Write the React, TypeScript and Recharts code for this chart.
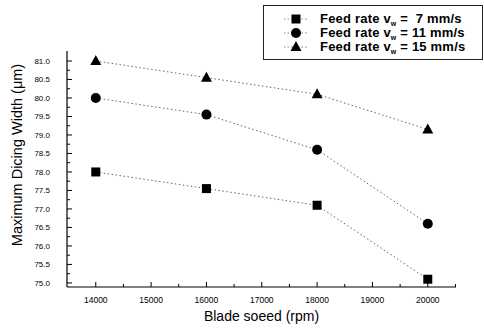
import { Legend, Line, LineChart, XAxis, YAxis } from "recharts";

const speeds = [14000, 16000, 18000, 20000];
const width7 = [78.0, 77.55, 77.1, 75.1];
const width11 = [80.0, 79.55, 78.6, 76.6];
const width15 = [81.0, 80.55, 80.1, 79.15];

const xTicks = [14000, 14500, 15000, 15500, 16000, 16500, 17000, 17500, 18000, 18500, 19000, 19500, 20000, 20500];
const yTicks = [
  75, 75.25, 75.5, 75.75, 76, 76.25, 76.5, 76.75, 77, 77.25, 77.5, 77.75, 78, 78.25, 78.5, 78.75, 79, 79.25,
  79.5, 79.75, 80, 80.25, 80.5, 80.75, 81,
];

const FONT = "'Liberation Sans', Arial, sans-serif";
const INK = "#000";

const data = speeds.map((s, i) => ({ speed: s, f7: width7[i], f11: width11[i], f15: width15[i] }));

type Shape = "square" | "circle" | "triangle";
const series: { key: string; rate: string; shape: Shape }[] = [
  { key: "f7", rate: "\u00a07", shape: "square" },
  { key: "f11", rate: "11", shape: "circle" },
  { key: "f15", rate: "15", shape: "triangle" },
];

function Marker({ cx, cy, shape }: { cx: number; cy: number; shape: Shape }) {
  if (cx == null || cy == null) return null;
  if (shape === "square") return <rect x={cx - 4.5} y={cy - 4.5} width={9} height={9} fill="#000" />;
  if (shape === "circle") return <circle cx={cx} cy={cy} r={5} fill="#000" />;
  return <polygon points={`${cx},${cy - 6} ${cx + 5.5},${cy + 4} ${cx - 5.5},${cy + 4}`} fill="#000" />;
}

function XTick({ x, y, payload }: any) {
  const major = payload.value % 1000 === 0;
  return (
    <g>
      <line x1={x} x2={x} y1={y} y2={y - (major ? 5 : 3)} stroke={INK} strokeWidth={1} />
      {major && (
        <text x={x} y={y + 16} textAnchor="middle" fontSize={8.5} fontFamily={FONT} fill={INK}>
          {payload.value}
        </text>
      )}
    </g>
  );
}

function YTick({ x, y, payload }: any) {
  const v = payload.value as number;
  const major = Math.abs(v * 2 - Math.round(v * 2)) < 1e-6;
  return (
    <g>
      <line x1={x} x2={x + (major ? 5 : 3)} y1={y} y2={y} stroke={INK} strokeWidth={1} />
      {major && (
        <text x={x - 17} y={y + 3} textAnchor="end" fontSize={8} fontFamily={FONT} fill={INK}>
          {v.toFixed(1)}
        </text>
      )}
    </g>
  );
}

function FeedLegend() {
  return (
    <div
      style={{
        width: 220,
        height: 55,
        border: "1px solid #222",
        boxSizing: "border-box",
        background: "#fff",
        position: "relative",
        fontFamily: FONT,
        fontSize: 13,
        fontWeight: "bold",
        color: INK,
      }}
    >
      {series.map((s, i) => (
        <div
          key={s.key}
          style={{ position: "absolute", left: 0, top: 6 + i * 14, height: 14, display: "flex", alignItems: "center" }}
        >
          <svg width={35} height={14} style={{ marginLeft: 18 }}>
            <line x1={2} x2={26} y1={7} y2={7} stroke="#666" strokeWidth={0.8} strokeDasharray="1.5 2" />
            <Marker cx={14} cy={7} shape={s.shape} />
          </svg>
          <span style={{ whiteSpace: "pre", letterSpacing: 0.2, marginLeft: 3 }}>
            Feed rate v<sub style={{ fontSize: 7, verticalAlign: -3 }}>w</sub> = {s.rate} mm/s
          </span>
        </div>
      ))}
    </div>
  );
}

export default function App() {
  return (
    <div style={{ position: "absolute", left: 0, top: 0, width: 484, height: 332, background: "#fff" }}>
      <LineChart width={484} height={332} data={data} margin={{ top: 51, right: 28, bottom: 0, left: 0 }}>
        <XAxis
          dataKey="speed"
          type="number"
          domain={[13480, 20510]}
          ticks={xTicks}
          interval={0}
          height={45}
          tickSize={0}
          tickMargin={0}
          tickLine={false}
          tick={<XTick />}
          axisLine={{ stroke: INK, strokeWidth: 1.2 }}
          label={{
            content: ({ viewBox }: any) => (
              <text
                x={viewBox.x + viewBox.width / 2}
                y={viewBox.y + 34}
                textAnchor="middle"
                fontSize={14}
                fontFamily={FONT}
                fill={INK}
              >
                Blade soeed (rpm)
              </text>
            ),
          }}
        />
        <YAxis
          type="number"
          domain={[74.89, 81.27]}
          ticks={yTicks}
          interval={0}
          width={67}
          tickSize={0}
          tickMargin={0}
          tickLine={false}
          tick={<YTick />}
          axisLine={{ stroke: INK, strokeWidth: 1.2 }}
          label={{
            content: ({ viewBox }: any) => {
              const cx = viewBox.x + 17;
              const cy = viewBox.y + viewBox.height / 2 - 14;
              return (
                <text
                  x={cx}
                  y={cy}
                  transform={`rotate(-90 ${cx} ${cy})`}
                  textAnchor="middle"
                  dominantBaseline="central"
                  fontSize={14.5}
                  fontFamily={FONT}
                  fill={INK}
                >
                  Maximum Dicing Width (μm)
                </text>
              );
            },
          }}
        />
        <Legend
          layout="horizontal"
          verticalAlign="middle"
          align="center"
          content={() => <FeedLegend />}
          wrapperStyle={{ left: 263, top: 5, width: 220, height: 55 }}
        />
        {series.map((s) => (
          <Line
            key={s.key}
            dataKey={s.key}
            stroke="#555"
            strokeWidth={0.9}
            strokeDasharray="1.5 2.5"
            isAnimationActive={false}
            dot={(p: any) => <Marker key={`${s.key}-${p.index}`} cx={p.cx} cy={p.cy} shape={s.shape} />}
            activeDot={false}
          />
        ))}
      </LineChart>
    </div>
  );
}
